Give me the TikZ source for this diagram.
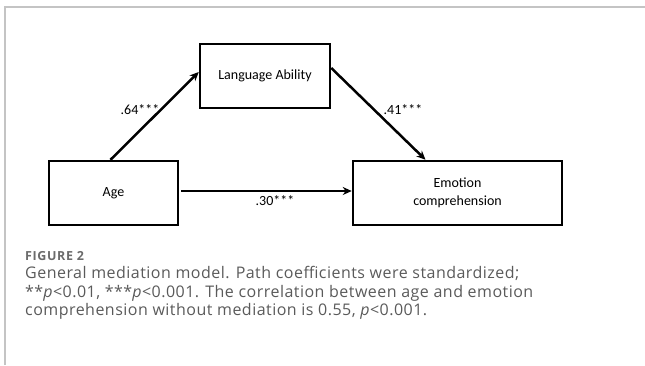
\documentclass[tikz,border=0pt]{standalone}
\usepackage{fontspec}
\setmainfont{Carlito}
\newfontfamily\capfont[LetterSpace=3]{Open Sans}
\newfontfamily\figfont[LetterSpace=5]{Open Sans}
\usetikzlibrary{arrows.meta}
\definecolor{capgray}{HTML}{5A5A5A}
\definecolor{framegray}{HTML}{C4C4C4}
\tikzset{
  boxnode/.style={draw=black, line width=2.5pt, rectangle, minimum height=64pt, font=\fontsize{14}{18}\selectfont, align=center, inner sep=2pt},
  patharrow/.style={draw=black, line width=2.5pt, -{Stealth[length=9pt,width=8pt]}},
  coef/.style={font=\fontsize{14}{16}\selectfont, inner sep=1pt},
  capline/.style={anchor=base west, font=\capfont\fontsize{16}{18.5}\selectfont, text=capgray, inner sep=0pt},
}
\begin{document}
\begin{tikzpicture}[x=1pt,y=-1pt]
\useasboundingbox (0,0) rectangle (645,365);
\draw[framegray, line width=1.2pt] (5,365) -- (5,7) -- (645,7);
\node[boxnode, minimum width=130pt] (lang) at (265,76) {Language Ability};
\node[boxnode, minimum width=129pt] (age) at (113.5,193) {Age};
\node[boxnode, minimum width=209pt] (emo) at (457.5,193) {Emotion\\comprehension};
\draw[patharrow] ([xshift=-3pt]age.north) -- ([yshift=4pt]lang.west);
\draw[patharrow] ([yshift=8pt]lang.east) -- ([xshift=-32pt]emo.north);
\draw[patharrow] ([xshift=2pt,yshift=2pt]age.east) -- ([yshift=2pt]emo.west);
\node[coef] (c64) at (140,110) {.64***};
\node[coef] (c41) at (403,110) {.41***};
\node[coef] (c30) at (275,201) {.30***};
\node[anchor=base west, font=\figfont\fontsize{12.5}{14}\selectfont\bfseries, text=capgray!90, inner sep=0pt] (fig) at (25,260) {FIGURE 2};
\node[capline] (cap1) at (25,278.5) {General mediation model. Path coefficients were standardized;};
\node[capline] (cap2) at (25,297) {**\emph{p}<0.01, ***\emph{p}<0.001. The correlation between age and emotion};
\node[capline] (cap3) at (25,315.5) {comprehension without mediation is 0.55, \emph{p}<0.001.};
\end{tikzpicture}
\end{document}
